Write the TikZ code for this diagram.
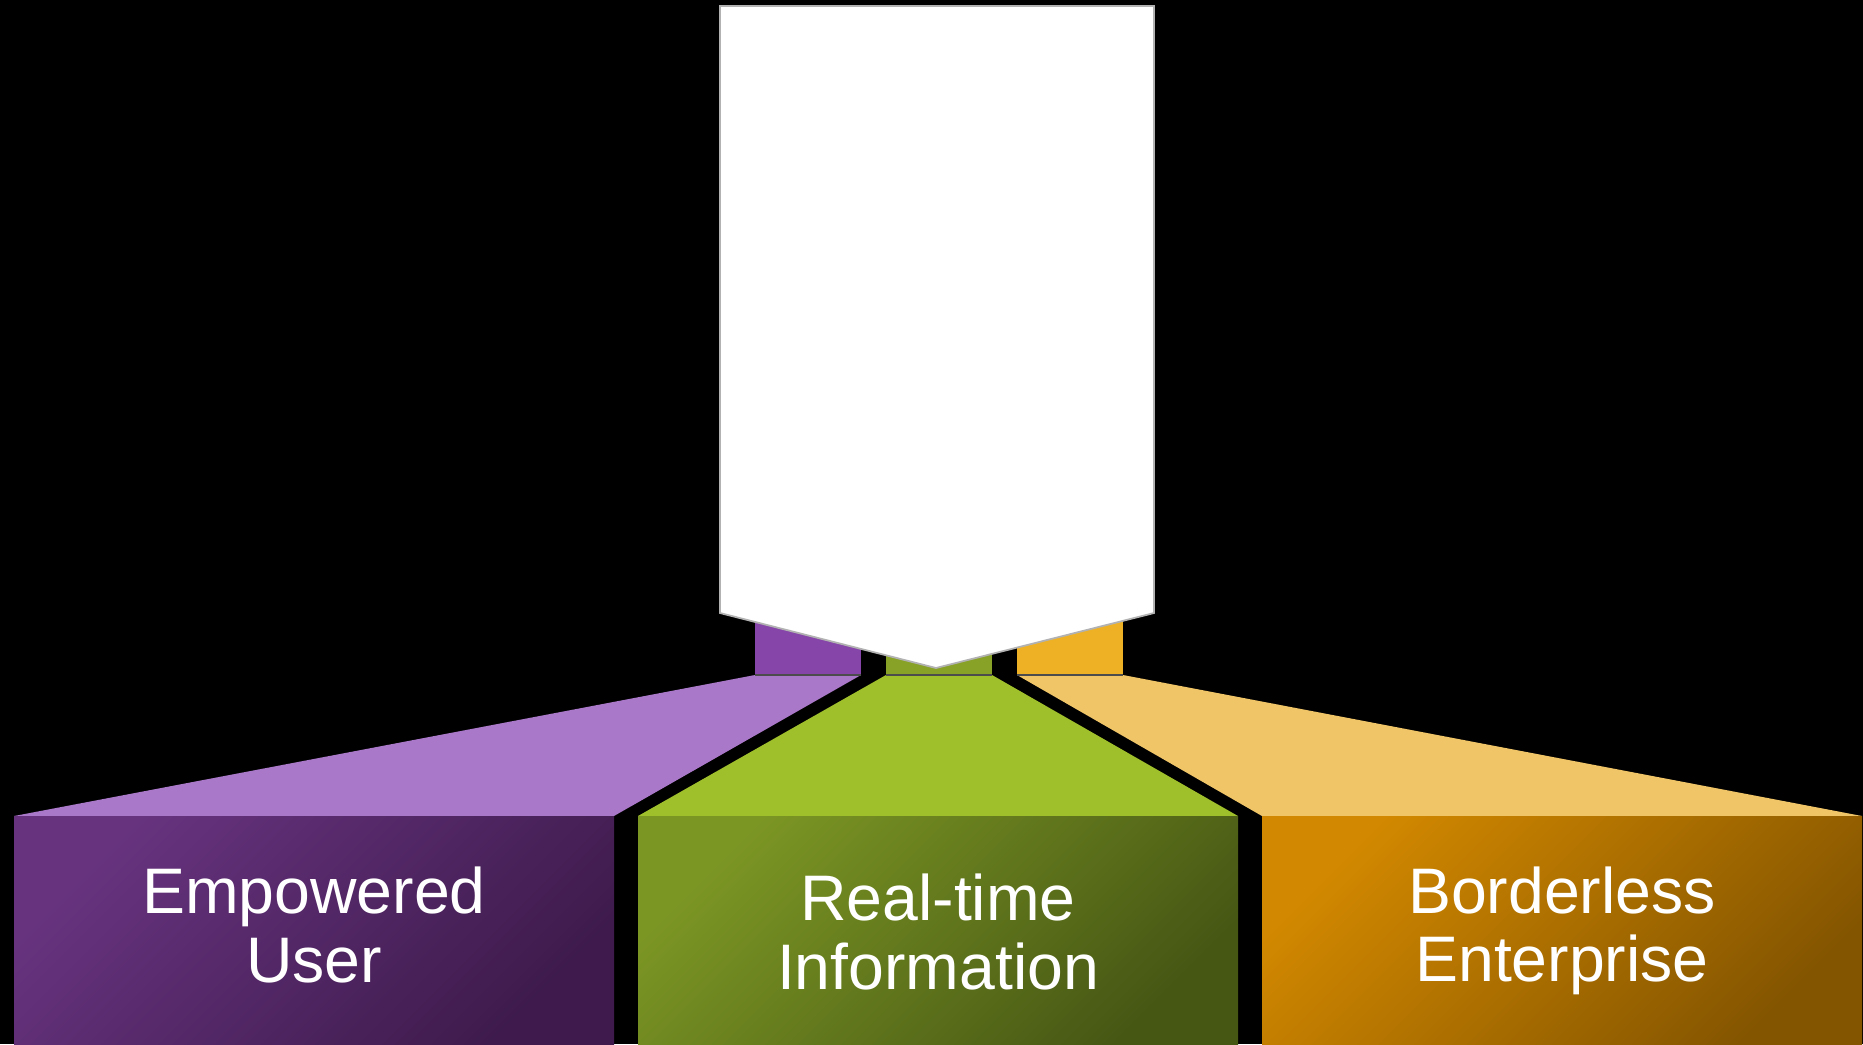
\documentclass[tikz,border=0pt]{standalone}
\usepackage{fontspec}
\setmainfont{Liberation Sans}

\definecolor{purpback}{HTML}{8645A8}
\definecolor{purptop}{HTML}{A978C8}
\definecolor{purplight}{HTML}{67337F}
\definecolor{purpdark}{HTML}{3E1B4C}
\definecolor{grnback}{HTML}{88A127}
\definecolor{grntop}{HTML}{9FC02A}
\definecolor{grnlight}{HTML}{7C9624}
\definecolor{grndark}{HTML}{465714}
\definecolor{orgback}{HTML}{EEB125}
\definecolor{orgtop}{HTML}{F0C568}
\definecolor{orglight}{HTML}{D28800}
\definecolor{orgdark}{HTML}{845500}

\begin{document}
\begin{tikzpicture}[x=0.01cm, y=-0.01cm,
    pillar text/.style={text=white, align=center, font=\fontsize{18.3}{19.4}\selectfont}]
    % Black page
    \fill[black] (0,0) rectangle (1863,1044);
    \useasboundingbox (0,0) rectangle (1863,1044);

    % Three pillars: back post, top face, front face with its label
    \foreach \i/\c/\ty/\txt in {0/purp/925/{Empowered\\User}, 1/grn/932/{Real-time\\Information}, 2/org/931/{Borderless\\Enterprise}} {
      \pgfmathsetmacro{\bx}{755+131*\i}
      \pgfmathsetmacro{\fx}{14+624*\i}
      \fill[\c back] (\bx,590) rectangle ({\bx+106},675);
      \fill[\c top] (\bx,675) -- ({\bx+106},675) -- ({\fx+600},816) -- (\fx,816) -- cycle;
      \draw[black!70, line width=0.6pt] (\bx,675) -- ({\bx+106},675);
      \shade[top color=\c light, bottom color=\c dark, shading angle=45] (\fx,816) rectangle ({\fx+600},1044);
      \node[pillar text] (t\i) at ({\fx+300},\ty) {\txt};
    }

    % White banner on top
    \draw[fill=white, draw=black!30, line width=0.5pt] (720,6) -- (1154,6) -- (1154,613) -- (936,668) -- (720,613) -- cycle;

  \end{tikzpicture}
\end{document}
